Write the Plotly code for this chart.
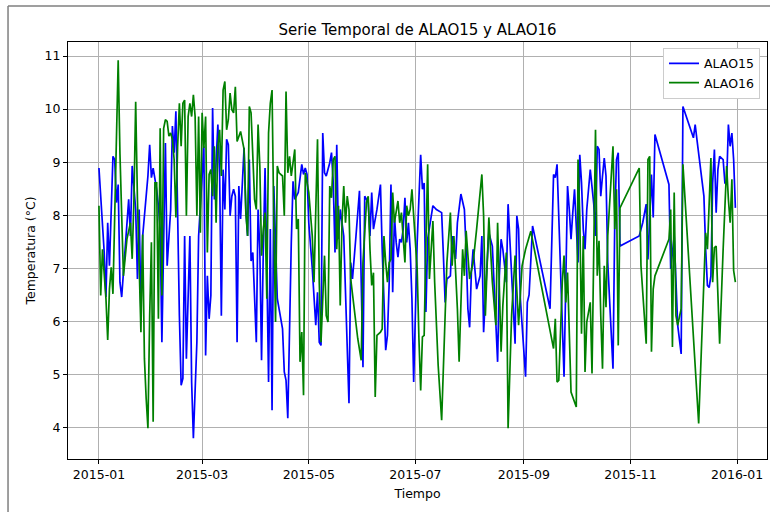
import pandas as pd
import plotly.graph_objects as go

# ---- data (day offsets from 2015-01-01, temperatures in °C) ----
alao15_days = [0, 3, 4, 5, 6, 8, 9, 10, 11, 12, 13, 15, 17, 18, 19, 21, 22, 23, 24, 25, 28, 29, 30, 31, 32, 33, 34, 35, 36, 37, 38, 39, 41, 42, 43, 44, 45, 46, 47, 48, 49, 50, 52, 53, 54, 56, 57, 59, 60, 61, 62, 63, 64, 65, 66, 68, 69, 70, 71, 72, 73, 74, 75, 76, 77, 78, 79, 80, 81, 83, 84, 85, 86, 87, 88, 90, 91, 92, 93, 94, 95, 96, 97, 98, 99, 100, 101, 102, 105, 106, 107, 108, 110, 111, 112, 114, 116, 117, 118, 119, 120, 122, 124, 125, 126, 127, 128, 129, 130, 132, 133, 134, 135, 136, 137, 138, 140, 142, 143, 144, 145, 147, 149, 150, 151, 152, 154, 155, 156, 157, 159, 161, 162, 164, 165, 166, 167, 168, 169, 170, 171, 172, 173, 174, 175, 176, 177, 178, 179, 180, 181, 182, 184, 185, 186, 187, 188, 191, 193, 196, 197, 198, 199, 201, 202, 204, 205, 207, 209, 210, 211, 212, 213, 214, 216, 218, 219, 220, 222, 223, 225, 226, 228, 229, 230, 231, 232, 233, 234, 236, 238, 239, 240, 241, 244, 245, 246, 248, 258, 260, 261, 262, 264, 266, 267, 268, 269, 270, 271, 272, 274, 275, 276, 277, 278, 279, 281, 282, 283, 284, 285, 286, 287, 288, 289, 290, 291, 294, 295, 296, 297, 298, 309, 311, 313, 314, 315, 316, 317, 318, 326, 327, 329, 330, 331, 333, 334, 340, 341, 342, 346, 347, 348, 349, 350, 351, 352, 353, 354, 355, 357, 358, 359, 360, 361, 362, 363, 364]
alao15_values = [8.89, 7.3, 6.46, 7.86, 7.05, 9.11, 9.05, 8.24, 8.58, 6.74, 6.46, 7.36, 8.3, 7.61, 8.93, 8.11, 6.8, 8.11, 6.18, 7.61, 8.74, 9.33, 8.71, 8.89, 8.68, 8.49, 8.18, 7.74, 5.61, 7.3, 9.36, 7.05, 8.1, 9.68, 9.18, 9.96, 7.74, 6.11, 4.8, 4.93, 7.61, 5.3, 7.61, 4.86, 3.8, 5.61, 7.61, 8.74, 9.3, 5.36, 6.86, 6.05, 6.49, 10.02, 8.3, 9.71, 8.8, 6.11, 8.86, 8.11, 9.43, 9.33, 7.99, 8.36, 8.49, 8.36, 5.61, 8.55, 7.93, 9.27, 8.11, 7.61, 9.05, 7.14, 7.3, 5.61, 8.11, 7.36, 5.27, 7.36, 8.89, 7.05, 4.86, 7.74, 4.33, 8.55, 7.42, 6.43, 5.86, 5.05, 4.89, 4.18, 7.49, 8.64, 8.3, 8.43, 8.96, 8.77, 8.89, 8.77, 7.86, 7.0, 5.93, 6.55, 5.61, 5.55, 9.55, 8.8, 8.74, 8.99, 9.18, 8.61, 7.3, 9.33, 7.55, 8.11, 7.61, 5.49, 4.46, 7.11, 6.8, 7.61, 8.46, 6.74, 5.14, 8.36, 8.24, 7.61, 8.43, 7.74, 8.11, 8.58, 7.36, 5.46, 5.74, 6.74, 8.58, 6.55, 7.99, 7.49, 7.21, 7.55, 7.49, 7.74, 8.33, 7.49, 7.86, 7.36, 6.43, 4.86, 6.11, 7.49, 9.14, 8.49, 8.61, 6.18, 7.55, 8.18, 8.11, 8.05, 7.24, 6.36, 6.8, 6.86, 7.61, 7.18, 7.86, 8.4, 8.11, 7.36, 6.24, 5.89, 6.92, 7.36, 6.61, 6.86, 7.61, 5.8, 7.11, 7.67, 7.42, 6.74, 5.24, 6.86, 7.55, 7.36, 7.05, 6.74, 8.21, 6.74, 5.58, 7.99, 7.74, 6.43, 4.96, 6.36, 6.5, 7.8, 6.24, 8.77, 8.71, 8.96, 6.74, 4.96, 6.74, 8.55, 8.11, 7.55, 8.05, 8.49, 7.11, 9.14, 8.61, 7.74, 7.36, 8.11, 8.86, 8.49, 8.21, 7.61, 9.3, 9.24, 8.36, 8.74, 9.08, 8.74, 7.11, 5.11, 7.86, 9.05, 9.18, 7.42, 7.61, 7.86, 8.21, 7.17, 8.11, 8.77, 7.96, 9.52, 8.58, 6.99, 7.61, 6.74, 5.93, 5.39, 10.05, 9.46, 9.71, 9.43, 8.36, 7.36, 6.68, 6.64, 6.86, 8.61, 9.24, 8.05, 8.86, 9.11, 9.05, 8.61, 8.61, 9.71, 9.3, 9.55, 9.05, 8.14]

alao16_days = [0, 1, 2, 4, 5, 6, 7, 8, 11, 12, 14, 16, 18, 19, 20, 21, 22, 23, 24, 25, 26, 27, 28, 29, 30, 31, 32, 33, 34, 35, 36, 37, 38, 39, 40, 41, 42, 43, 44, 45, 46, 47, 48, 49, 50, 51, 52, 53, 54, 55, 56, 57, 58, 59, 60, 61, 62, 63, 64, 65, 66, 67, 68, 69, 70, 71, 72, 73, 74, 75, 76, 77, 78, 79, 81, 83, 84, 85, 86, 87, 88, 89, 90, 91, 92, 93, 94, 95, 96, 97, 98, 99, 100, 101, 102, 103, 105, 106, 107, 108, 109, 110, 112, 113, 114, 115, 116, 117, 118, 120, 122, 123, 125, 126, 127, 128, 129, 130, 131, 132, 133, 134, 135, 136, 137, 138, 139, 140, 141, 142, 143, 144, 146, 148, 150, 151, 153, 154, 155, 156, 157, 158, 159, 161, 162, 163, 164, 165, 166, 167, 168, 169, 171, 172, 173, 174, 175, 176, 177, 178, 179, 180, 182, 183, 184, 185, 186, 187, 188, 189, 191, 192, 194, 196, 199, 201, 202, 203, 205, 206, 208, 209, 210, 212, 214, 216, 219, 220, 221, 223, 225, 227, 228, 230, 231, 233, 234, 236, 238, 240, 242, 244, 247, 260, 261, 262, 263, 265, 266, 267, 268, 270, 273, 274, 275, 276, 277, 278, 279, 281, 282, 283, 284, 285, 286, 287, 288, 289, 290, 291, 294, 295, 296, 297, 298, 309, 310, 313, 314, 315, 316, 317, 318, 326, 327, 328, 329, 330, 331, 333, 334, 343, 347, 348, 350, 351, 352, 353, 355, 357, 359, 360, 361, 362, 363, 364]
alao16_values = [8.18, 6.49, 7.36, 6.43, 5.65, 6.61, 7.02, 6.52, 10.92, 9.17, 6.86, 7.55, 7.86, 7.18, 8.3, 10.14, 8.3, 6.74, 5.8, 7.64, 5.3, 4.55, 3.99, 6.11, 7.49, 4.11, 8.61, 8.61, 6.05, 9.64, 6.49, 9.64, 9.8, 9.77, 9.49, 9.55, 9.43, 9.05, 7.96, 9.3, 10.11, 9.3, 10.11, 10.17, 7.99, 9.86, 10.11, 9.86, 10.27, 9.86, 7.99, 9.86, 7.67, 9.93, 9.27, 9.86, 7.3, 8.77, 8.86, 8.36, 9.3, 7.86, 9.3, 9.61, 8.74, 10.36, 10.52, 9.61, 9.8, 10.3, 9.99, 9.93, 10.42, 9.39, 9.58, 9.24, 8.05, 7.61, 10.05, 9.93, 9.24, 8.3, 8.11, 9.71, 8.93, 7.24, 7.74, 8.05, 6.43, 9.55, 10.11, 10.36, 7.86, 5.99, 8.93, 8.8, 8.74, 7.99, 10.33, 8.8, 9.11, 8.74, 9.24, 7.74, 7.93, 5.24, 5.8, 4.61, 8.8, 8.43, 7.61, 6.74, 9.43, 6.74, 5.61, 6.43, 7.24, 6.11, 5.99, 8.55, 8.33, 9.05, 9.11, 7.36, 8.18, 6.3, 7.86, 8.55, 7.86, 8.36, 8.11, 6.8, 6.24, 5.68, 5.27, 7.11, 8.24, 8.36, 7.36, 6.68, 6.92, 4.58, 5.74, 5.8, 5.86, 7.61, 7.11, 6.74, 7.11, 7.17, 8.43, 7.86, 8.27, 7.86, 8.05, 7.61, 7.11, 8.18, 7.99, 8.11, 8.49, 7.99, 6.99, 5.68, 4.7, 5.71, 5.74, 7.49, 8.96, 6.8, 7.89, 6.74, 5.18, 4.14, 7.11, 8.05, 7.05, 7.61, 6.24, 5.24, 7.36, 6.86, 7.71, 6.8, 7.11, 7.74, 8.77, 7.99, 6.11, 7.96, 6.74, 5.93, 7.86, 5.43, 6.3, 7.3, 3.99, 6.11, 7.24, 5.93, 7.05, 7.36, 7.7, 5.49, 6.05, 4.86, 4.89, 6.74, 7.24, 6.36, 6.92, 4.67, 4.39, 9.05, 7.99, 5.77, 7.61, 5.05, 5.99, 6.36, 5.02, 7.36, 9.61, 6.86, 7.52, 6.11, 5.11, 7.05, 6.27, 7.61, 9.3, 7.74, 8.49, 5.55, 8.14, 8.89, 7.05, 5.58, 9.05, 9.11, 5.43, 6.61, 6.86, 7.55, 8.11, 5.52, 8.43, 6.11, 5.93, 6.24, 8.96, 4.08, 7.67, 7.36, 9.08, 6.74, 7.39, 7.42, 5.58, 7.36, 8.93, 8.3, 7.86, 8.68, 6.96, 6.74]

start_date = "2015-01-01"
series_names = ["ALAO15", "ALAO16"]
series_colors = ["#0000ff", "#008000"]
title_text = "Serie Temporal de ALAO15 y ALAO16"
x_label = "Tiempo"
y_label = "Temperatura (°C)"
y_ticks = [4, 5, 6, 7, 8, 9, 10, 11]

base = pd.Timestamp(start_date)
dates15 = base + pd.to_timedelta(alao15_days, unit="D")
dates16 = base + pd.to_timedelta(alao16_days, unit="D")

FONT = "DejaVu Sans, Verdana, sans-serif"

fig = go.Figure()
fig.add_trace(go.Scatter(x=dates15, y=alao15_values, mode="lines", name=series_names[0],
                         line=dict(color=series_colors[0], width=1.7)))
fig.add_trace(go.Scatter(x=dates16, y=alao16_values, mode="lines", name=series_names[1],
                         line=dict(color=series_colors[1], width=1.7)))

axis_common = dict(
    showline=True, linecolor="black", linewidth=1, mirror=True,
    showgrid=True, gridcolor="#b0b0b0", gridwidth=0.8,
    ticks="outside", ticklen=4, tickcolor="black", tickwidth=1,
    tickfont=dict(family=FONT, size=12.5, color="black"),
    zeroline=False,
)

fig.update_layout(
    width=774, height=512,
    margin=dict(l=68, r=7, t=42, b=53),
    paper_bgcolor="white", plot_bgcolor="white",
    font=dict(family=FONT, color="black"),
    title=dict(text=title_text, x=0.5, xref="paper", xanchor="center",
               y=1 - 30 / 512, yref="container", yanchor="middle",
               font=dict(family=FONT, size=15, color="black")),
    xaxis=dict(**axis_common, type="date",
               range=["2014-12-14 07:00", "2016-01-18 02:00"],
               tick0="2015-01-01", dtick="M2", tickformat="%Y-%m",
               title=dict(text=x_label, font=dict(family=FONT, size=12.5), standoff=8)),
    yaxis=dict(**axis_common, range=[3.41, 11.264], tickvals=y_ticks,
               title=dict(text=y_label, font=dict(family=FONT, size=12.5), standoff=6)),
    legend=dict(x=0.99, y=0.986, xanchor="right", yanchor="top",
                bgcolor="white", bordercolor="#cccccc", borderwidth=1,
                tracegroupgap=0, itemwidth=30,
                font=dict(family=FONT, size=12.5, color="black")),
    showlegend=True,
)

# outer figure frame (partially visible in the reference)
fig.add_shape(type="line", xref="paper", yref="paper", x0=-0.0858, x1=1.0043, y0=1.0863, y1=1.0863,
              line=dict(color="#7f7f7f", width=1.5))
fig.add_shape(type="line", xref="paper", yref="paper", x0=-0.0858, x1=-0.0858, y0=1.0863, y1=-0.14,
              line=dict(color="#7f7f7f", width=1.5))

fig.write_html("out.html", config={"displayModeBar": False},
               post_script="document.body.style.margin='0';")
